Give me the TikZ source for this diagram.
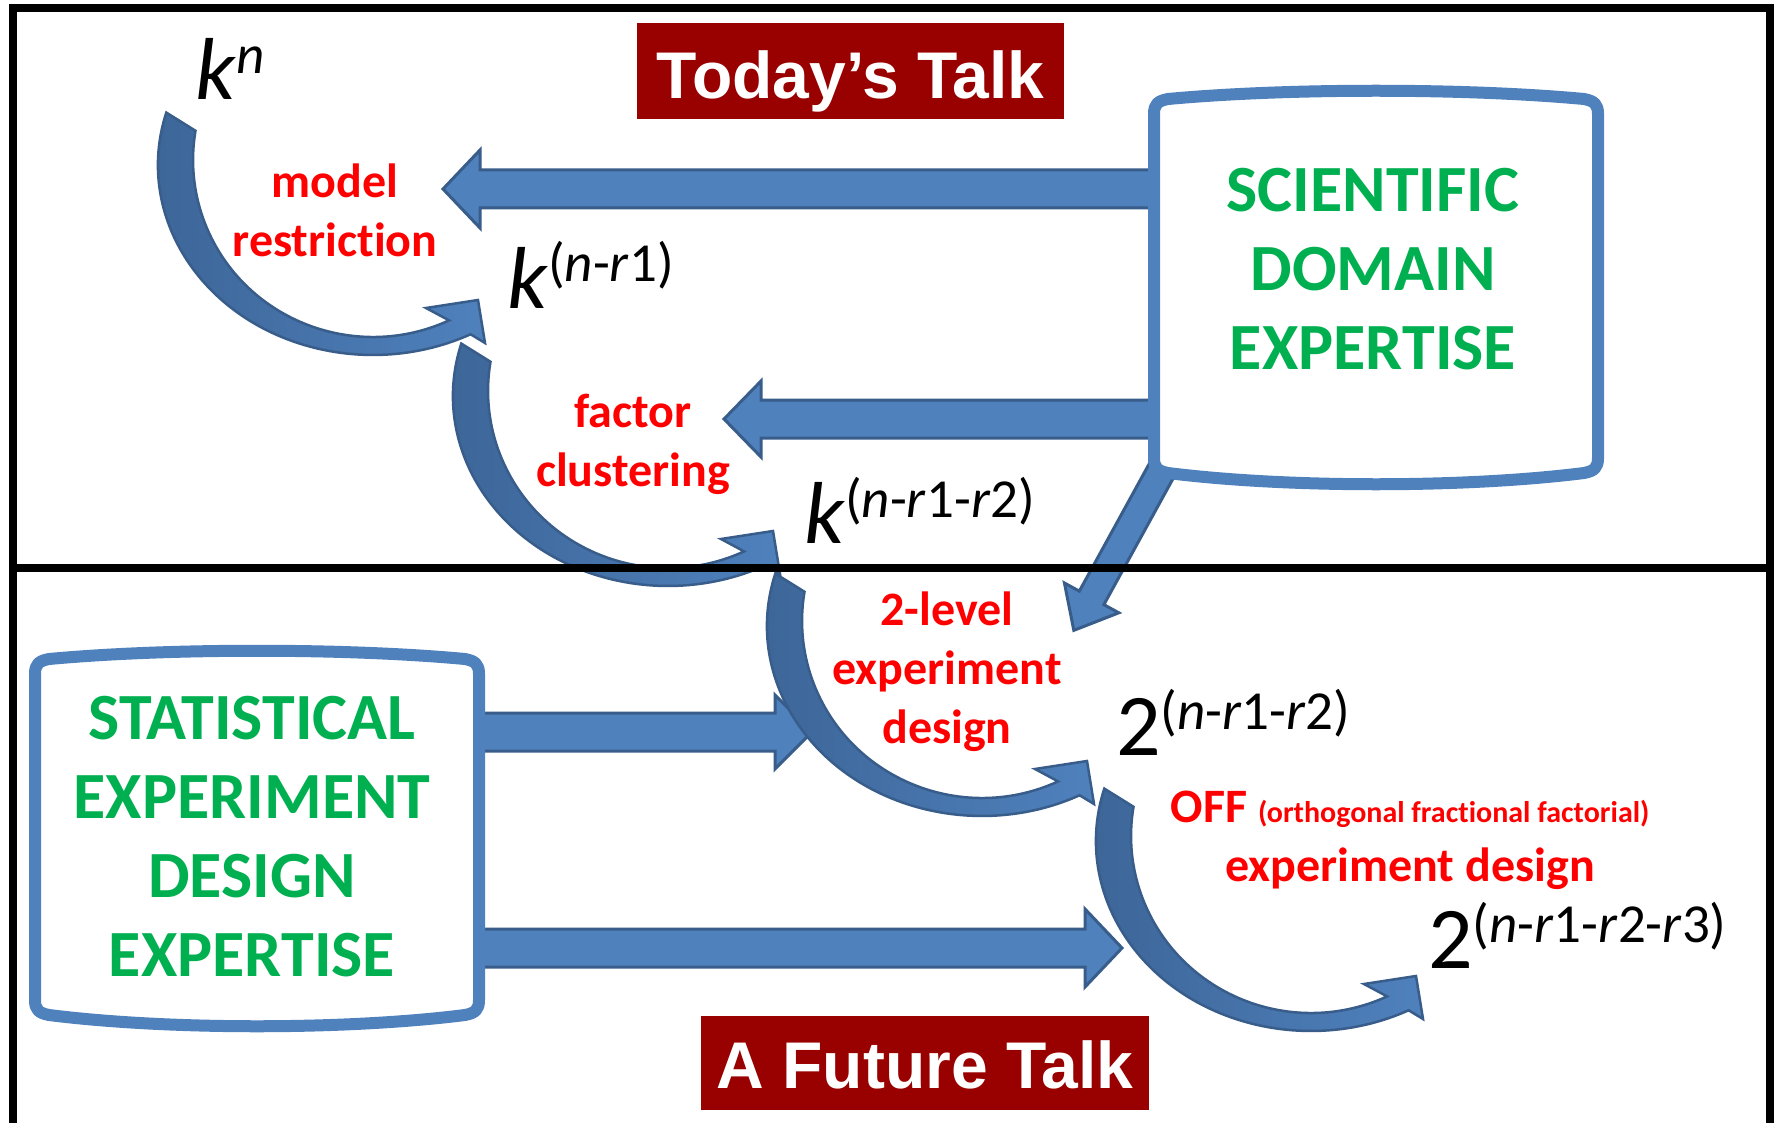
\documentclass[tikz,border=0pt]{standalone}
\usepackage{fontspec}
\setmainfont{Carlito}[Ligatures=NoCommon]
\newfontfamily\arialfont{Liberation Sans}

\definecolor{blockblue}{RGB}{79,129,189}
\definecolor{edgeblue}{RGB}{56,93,138}
\definecolor{bentdark}{RGB}{60,100,150}
\definecolor{talkred}{RGB}{153,0,0}
\definecolor{expertgreen}{RGB}{0,176,80}

\newcommand\pw[1]{\raisebox{26pt}{\fontsize{55}{55}\selectfont #1}}

\tikzset{
  frame/.style={line width=8pt, black},
  panel/.style={draw=blockblue, line width=12pt, fill=white, line join=round},
  blockbody/.style={draw=edgeblue, fill=blockblue, line width=3pt},
  bentbody/.style={draw=edgeblue, line width=2.5pt, left color=bentdark, right color=blockblue},
  redlabel/.style={inner sep=0pt, align=center, text=red, font=\bfseries\fontsize{48}{59}\selectfont},
  expertlabel/.style={inner sep=0pt, align=center, text=expertgreen, font=\bfseries\fontsize{66}{79}\selectfont},
  powlabel/.style={inner sep=0pt, anchor=base west, font=\fontsize{88}{88}\selectfont},
  talkbox/.style={fill=talkred, text=white, inner sep=0pt, text depth=0pt, font=\arialfont\bfseries\fontsize{66}{66}\selectfont},
  % block arrow: length / shaft half width / head half width
  pics/blockarrow/.style args={#1/#2/#3}{code={
    \draw[blockbody] (0,-#2) -- ({#1-37},-#2) -- ({#1-37},-#3) -- (#1,0) -- ({#1-37},#3) -- ({#1-37},#2) -- (0,#2) -- cycle;
  }},
  % curved arrow, placed at the centre of its outer arc
  pics/bentarrow/.style={code={
    \draw[bentbody] (-206.7,-52.4) arc[start angle=196, end angle=63, x radius=215, y radius=190]
      -- (112,178) -- (105,135) -- (53,143) -- (76.1,155.4)
      arc[start angle=65, end angle=189.5, x radius=180, y radius=177] -- cycle;
  }},
  % expertise panel: width / height, placed at its top left corner
  pics/expertpanel/.style args={#1/#2}{code={
    \draw[panel] (0,10) .. controls (0,0) and (4,-3) .. (14,-5)
      .. controls ({0.3*#1},-16) and ({0.7*#1},-16) .. ({#1-14},-5)
      .. controls ({#1-4},-3) and (#1,0) .. (#1,10) -- (#1,{#2-10})
      .. controls (#1,#2) and ({#1-4},{#2+3}) .. ({#1-14},{#2+5})
      .. controls ({0.7*#1},{#2+20}) and ({0.3*#1},{#2+20}) .. (14,{#2+5})
      .. controls (4,{#2+3}) and (0,#2) .. (0,{#2-10}) -- cycle;
  }}
}

\begin{document}
\begin{tikzpicture}[x=1pt,y=-1pt]
\path[use as bounding box, fill=white] (0,0) rectangle (1774,1123);

% Block Arrows
\pic[rotate=180] at (1160,189) {blockarrow=717/19/39};
\pic[rotate=180] at (1160,419) {blockarrow=436/19/38};
\pic at (470,732) {blockarrow=342/19/37};
\pic at (470,948) {blockarrow=652/19/39};
\pic[rotate=-118.75] at (1170,455) {blockarrow=200/14/31};

% Curved Arrows
\pic at (373,165) {bentarrow};
\pic at (668,396) {bentarrow};
\pic at (982,626) {bentarrow};
\pic at (1311,841) {bentarrow};

% Panels
\pic at (1154,104) {expertpanel=444/364};
\pic at (35,664) {expertpanel=444/346};

% Frame
\draw[frame] (13,1123) -- (13,8) -- (1770,8) -- (1770,1123);
\draw[frame] (13,568) -- (1770,568);

% Text Nodes
\node[talkbox, minimum width=427pt, minimum height=96pt, text height=54pt] (today) at (850.5,71.3) {Today’s Talk};
\node[talkbox, minimum width=448pt, minimum height=94pt, text height=50pt] (future) at (925,1063) {A Future Talk};

\node[expertlabel] (scientific) at (1373,269.5) {SCIENTIFIC\\DOMAIN\\EXPERTISE};
\node[expertlabel] (statistical) at (252,837) {STATISTICAL\\EXPERIMENT\\DESIGN\\EXPERTISE};

\node[redlabel] (restrict) at (335,210.5) {model\\restriction};
\node[redlabel] (cluster) at (633,444) {factor\\clustering};
\node[redlabel] (twolevel) at (947,671.5) {2-level\\experiment\\design};
\node[redlabel] (offdesign) at (1410,840.5) {OFF {\fontsize{30}{30}\selectfont (orthogonal fractional factorial)}\\experiment design};

\node[powlabel] (kn) at (195,100) {\textit{k}\pw{\textit{n}}};
\node[powlabel] (kr1) at (507,308) {\textit{k}\pw{(\textit{n}-\textit{r}1)}};
\node[powlabel] (kr2) at (804,543) {\textit{k}\pw{(\textit{n}-\textit{r}1-\textit{r}2)}};
\node[powlabel] (tr2) at (1116,755) {2\pw{(\textit{n}-\textit{r}1-\textit{r}2)}};
\node[powlabel] (tr3) at (1428,968) {2\pw{(\textit{n}-\textit{r}1-\textit{r}2-\textit{r}3)}};

\end{tikzpicture}
\end{document}
